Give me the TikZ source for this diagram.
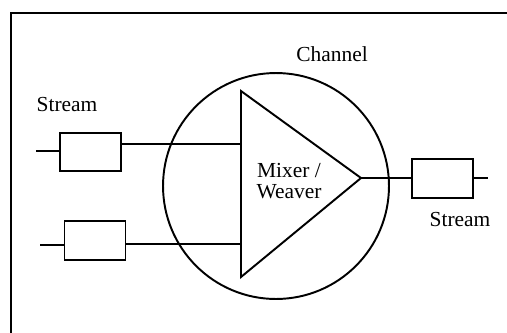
\documentclass[tikz,border=0pt]{standalone}
\usepackage{fontspec}
\setmainfont{Liberation Serif}
\usepackage{tikz}
\usetikzlibrary{positioning}

\begin{document}
\begin{tikzpicture}[x=0.02cm, y=-0.02cm, line width=1.1pt,
    streambox/.style={draw, minimum width=1.22cm, minimum height=0.77cm, inner sep=0pt},
    lbl/.style={font=\fontsize{12.2}{12}\selectfont, inner sep=0pt, align=center}]
    \useasboundingbox (0,0) rectangle (507,332);

    % Frame (cut off at right and bottom)
    \draw[line width=1.7pt] (11,340) -- (11,13) -- (512,13);

    % Channel
    \node[draw, circle, minimum size=4.52cm, inner sep=0pt] (channel) at (276,186) {};
    \node[lbl] (channellbl) at (332,54) {Channel};

    % Mixer / weaver triangle
    \coordinate (mixtop) at (241,91);
    \coordinate (mixbot) at (241,277);
    \coordinate (apex) at (361,178);
    \draw (mixtop) -- (apex) -- (mixbot) -- cycle;
    \node[lbl] (mixer) at (289,181) {Mixer /\\Weaver};

    % Input streams
    \node[streambox] (in1) at (90.5,152) {};
    \node[streambox] (in2) at (95,240.5) {};
    \node[lbl] (inlbl) at (67,105) {Stream};
    \coordinate (in1tail) at (36,151);
    \coordinate (in2tail) at (40,245);
    \coordinate (mix1) at (241,144);
    \coordinate (mix2) at (241,244);
    \draw (in1tail) -- (in1.west |- in1tail);
    \draw (in2tail) -- (in2.west |- in2tail);
    \draw (in1.east |- mix1) -- (mix1);
    \draw (in2.east |- mix2) -- (mix2);

    % Output stream
    \node[streambox] (out) at (442.5,178.5) {};
    \node[lbl] (outlbl) at (460,220) {Stream};
    \coordinate (outtail) at (488,178);
    \draw (apex) -- (out.west |- apex);
    \draw (out.east |- apex) -- (outtail);
\end{tikzpicture}
\end{document}
